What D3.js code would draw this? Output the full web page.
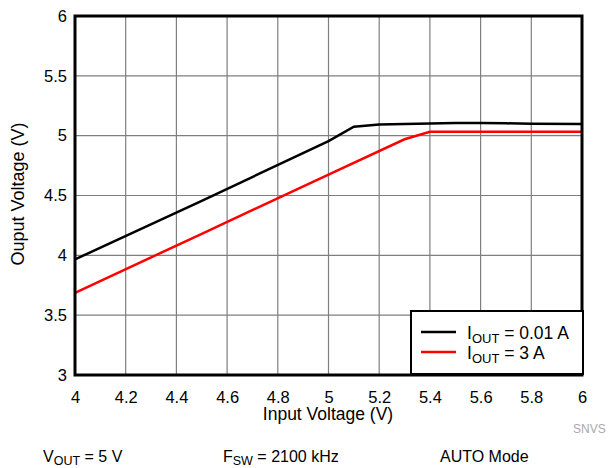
<!DOCTYPE html>
<html><head><meta charset="utf-8">
<script src="https://cdn.jsdelivr.net/npm/d3@7"></script>
<style>body{margin:0;background:#fff}svg{display:block;font-family:"Liberation Sans",Arial,sans-serif}</style>
</head><body>
<svg id="c" width="611" height="468"></svg>
<script>
const xTicks = [4,4.2,4.4,4.6,4.8,5,5.2,5.4,5.6,5.8,6];
const yTicks = [3,3.5,4,4.5,5,5.5,6];
const vinLow = [4.0,4.5,5.0,5.1,5.2,5.3,5.4,5.5,5.6,5.7,5.8,6.0];
const voutLow = [3.966,4.455,4.955,5.075,5.093,5.098,5.102,5.106,5.106,5.103,5.100,5.098];
const vinHigh = [4.0,4.5,5.0,5.3,5.4,5.6,5.8,6.0];
const voutHigh = [3.687,4.18,4.675,4.97,5.033,5.033,5.033,5.033];

const svg = d3.select("#c");
const m = {l:75,t:16,r:582,b:375};
const x = d3.scaleLinear().domain([4,6]).range([m.l,m.r]);
const y = d3.scaleLinear().domain([3,6]).range([m.b,m.t]);
const FF = "Liberation Sans, Arial, sans-serif";

// grid
svg.append("g").selectAll("line").data(xTicks.slice(1,-1)).join("line")
  .attr("x1",d=>x(d)).attr("x2",d=>x(d)).attr("y1",m.t).attr("y2",m.b)
  .attr("stroke","#7f7f7f").attr("stroke-width",1.2);
svg.append("g").selectAll("line").data(yTicks.slice(1,-1)).join("line")
  .attr("y1",d=>y(d)).attr("y2",d=>y(d)).attr("x1",m.l).attr("x2",m.r)
  .attr("stroke","#7f7f7f").attr("stroke-width",1.2);

// axes labels
const xa = svg.append("g").attr("transform",`translate(0,${m.b})`)
  .call(d3.axisBottom(x).tickValues(xTicks).tickSize(0).tickPadding(16).tickFormat(d3.format("")));
xa.select(".domain").remove();
xa.selectAll("text").attr("font-size",16.5).attr("fill","#000").attr("font-family",FF);
const ya = svg.append("g").attr("transform",`translate(${m.l},0)`)
  .call(d3.axisLeft(y).tickValues(yTicks).tickSize(0).tickPadding(8).tickFormat(d3.format("")));
ya.select(".domain").remove();
ya.selectAll("text").attr("font-size",16.5).attr("fill","#000").attr("font-family",FF);

// lines
const line = d3.line().x(d=>x(d[0])).y(d=>y(d[1]));
svg.append("path").datum(vinHigh.map((v,i)=>[v,voutHigh[i]])).attr("d",line)
  .attr("fill","none").attr("stroke","#ff0000").attr("stroke-width",2.5);
svg.append("path").datum(vinLow.map((v,i)=>[v,voutLow[i]])).attr("d",line)
  .attr("fill","none").attr("stroke","#000").attr("stroke-width",2.5);

// border
svg.append("rect").attr("x",m.l).attr("y",m.t).attr("width",m.r-m.l).attr("height",m.b-m.t)
  .attr("fill","none").attr("stroke","#000").attr("stroke-width",3);

// legend
const lg = svg.append("g");
lg.append("rect").attr("x",411).attr("y",311).attr("width",172).attr("height",63)
  .attr("fill","#fff").attr("stroke","#000").attr("stroke-width",2);
const legendItems = [{c:"#000",v:"0.01 A"},{c:"#ff0000",v:"3 A"}];
legendItems.forEach((it,i)=>{
  const yy = 332 + i*20;
  lg.append("line").attr("x1",421).attr("x2",456).attr("y1",yy).attr("y2",yy).attr("stroke",it.c).attr("stroke-width",2.5);
  const t = lg.append("text").attr("x",467).attr("y",yy+7).attr("font-size",17.5);
  t.append("tspan").text("I");
  t.append("tspan").attr("font-size",13).attr("dy",4).text("OUT");
  t.append("tspan").attr("dy",-4).text(" = "+it.v);
});

// titles
svg.append("text").attr("x",328).attr("y",420).attr("text-anchor","middle").attr("font-size",17.5).text("Input Voltage (V)");
svg.append("text").attr("transform","translate(24,194) rotate(-90)").attr("text-anchor","middle").attr("font-size",18).text("Ouput Voltage (V)");
svg.append("text").attr("x",573).attr("y",433).attr("font-size",12).attr("fill","#aaa").text("SNVS");

// footnotes
function sub(xp, main, s, rest){
  const t = svg.append("text").attr("x",xp).attr("y",462).attr("font-size",16);
  t.append("tspan").text(main);
  t.append("tspan").attr("font-size",12.5).attr("dy",3).text(s);
  t.append("tspan").attr("dy",-3).text(rest);
}
sub(43,"V","OUT"," = 5 V");
sub(223,"F","SW"," = 2100 kHz");
svg.append("text").attr("x",440).attr("y",462).attr("font-size",16).text("AUTO Mode");
</script>
</body></html>
